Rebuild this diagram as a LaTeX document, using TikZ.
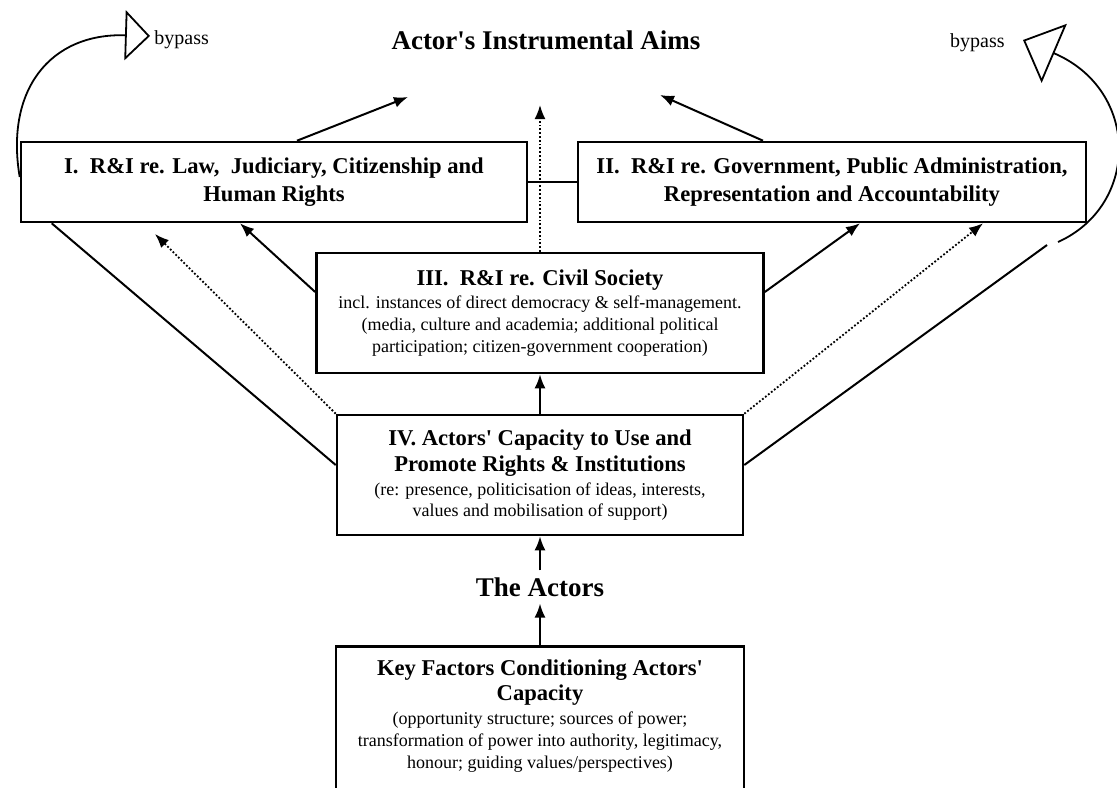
\documentclass[tikz,border=0pt]{standalone}
\usepackage{fontspec}
\setmainfont{Liberation Serif}
\usetikzlibrary{arrows.meta,positioning}
\newcommand{\headfont}{\bfseries\fontsize{11.3}{10.8}\selectfont}
\newcommand{\notefont}{\normalfont\fontsize{9}{10.8}\selectfont}
\tikzset{
	box/.style={draw,rectangle,align=center,line width=1.3pt,inner sep=1pt,font=\notefont},
	title/.style={font=\bfseries\fontsize{13.5}{16}\selectfont},
	note/.style={font=\fontsize{10}{12}\selectfont,inner sep=0pt},
	arr/.style={-{Latex[length=7pt,width=5.5pt]},line width=1pt},
	dotarr/.style={arr,line width=0.9pt,densely dotted},
	link/.style={line width=1pt},
	bypass/.style={line width=0.9pt}
}

\begin{document}
\begin{tikzpicture}[x=0.5pt,y=-0.5pt]
	\useasboundingbox (0,0) rectangle (1117,787);
	\fill[white] (0,0) rectangle (1117,787);
	% aims
	\node[title] (aims) at (546,40) {Actor\textquotesingle s Instrumental Aims};
	\coordinate (aimsL) at (408,97);
	\coordinate (aimsM) at (540,105);
	\coordinate (aimsR) at (660,95);
	% rights and institutions
	\node[box,minimum width=253pt,minimum height=40pt] (law) at (274,182)
		{{\headfont I.\ \ R\&I re. Law,\ \ Judiciary, Citizenship and}\\[3.5pt]{\headfont Human Rights}};
	\node[box,minimum width=254pt,minimum height=40pt] (gov) at (832,182)
		{{\headfont II.\ \ R\&I re. Government, Public Administration,}\\[3pt]{\headfont Representation and Accountability}};
	\node[box,minimum width=223.5pt,minimum height=60pt] (civil) at (540,313)
		{{\headfont III.\ \ R\&I re. Civil Society}\\[0.8pt]
		incl. instances of direct democracy \& self-management.\\
		(media, culture and academia; additional political\\
		participation; citizen-government cooperation)};
	\node[box,minimum width=203pt,minimum height=60pt] (cap) at (540,475)
		{{\headfont IV. Actors\textquotesingle\ Capacity to Use and}\\[2.2pt]
		{\headfont Promote Rights \& Institutions}\\[1.2pt]
		(re: presence, politicisation of ideas, interests,\\
		values and mobilisation of support)};
	% actors
	\node[title] (actors) at (540,587) {The Actors};
	\node[minimum width=203.5pt,minimum height=69pt,align=center,inner sep=1pt,font=\notefont] (keyf) at (540,716)
		{{\headfont Key Factors Conditioning Actors\textquotesingle}\\[1.7pt]
		{\headfont Capacity}\\[1.2pt]
		(opportunity structure; sources of power;\\
		transformation of power into authority, legitimacy,\\
		honour; guiding values/perspectives)};
	\draw[line width=1.3pt] ([yshift=-20pt]keyf.south west) -- (keyf.north west)
		-- (keyf.north east) -- ([yshift=-20pt]keyf.south east);
	% upward chain
	\draw[arr] (keyf.north) -- (actors);
	\draw[arr] (actors) -- (cap.south);
	\draw[arr] (cap.north) -- (civil.south);
	\draw[dotarr] (civil.north) -- (aimsM);
	\draw[arr] ([xshift=11.5pt]law.north) -- (aimsL);
	\draw[arr] ([xshift=-34.5pt]gov.north) -- (aimsR);
	\draw[link] (law.east) -- (gov.west);
	% into I and II
	\coordinate (lawin) at (155,234);
	\draw[arr] ([yshift=10.5pt]civil.west) -- ([xshift=-17pt]law.south);
	\draw[arr] ([yshift=10.5pt]civil.east) -- ([xshift=14pt]gov.south);
	\draw[dotarr] (cap.north west) -- (lawin);
	\draw[dotarr] (cap.north east) -- ([xshift=75.5pt]gov.south);
	\draw[link] ([yshift=5pt]cap.west) -- ([xshift=16pt]law.south west);
	\coordinate (byR) at (1047,245);
	\draw[link] ([yshift=5pt]cap.east) -- (byR);
	% bypass
	\coordinate (byLtip) at (150,36);
	\coordinate (byRstart) at (1058,242);
	\coordinate (byRtip) at (1023,40);
	\draw[bypass,-{Triangle[open,length=12.5pt,width=25pt]}] ([yshift=2.5pt]law.west)
		.. controls (5,90) and (50,33) .. (byLtip);
	\draw[bypass,-{Triangle[open,length=17pt,width=32pt]}] (byRstart)
		.. controls (1140,205) and (1140,90) .. (byRtip);
	\node[note,right=2pt of byLtip,yshift=-2pt] (byLlabel) {bypass};
	\node[note,left=9pt of byRtip,yshift=-1.5pt] (byRlabel) {bypass};
\end{tikzpicture}
\end{document}
